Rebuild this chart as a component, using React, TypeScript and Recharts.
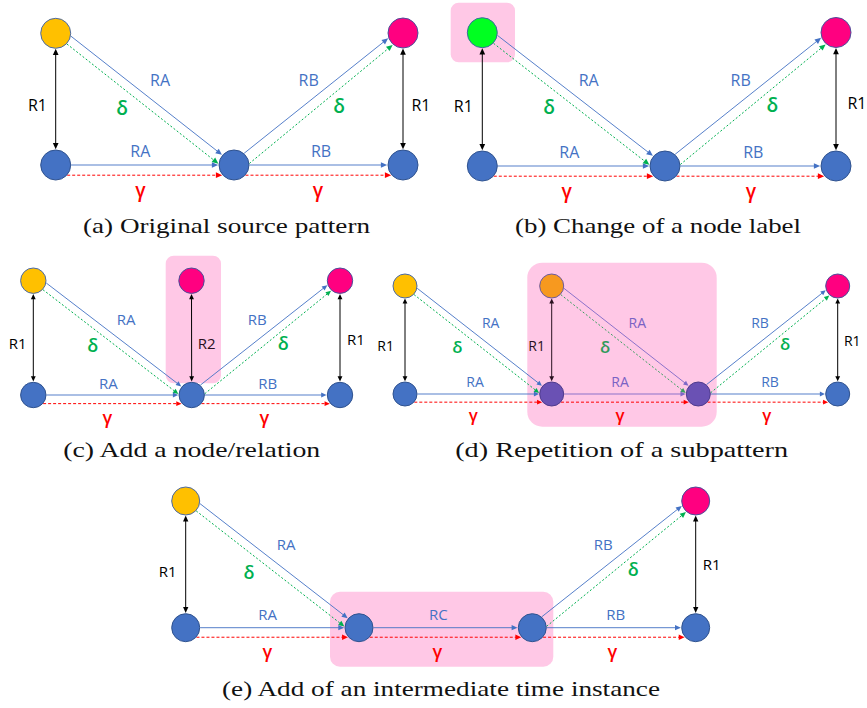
import React from 'react';
import { ScatterChart, Scatter, XAxis, YAxis, ReferenceLine, ReferenceArea } from 'recharts';

const W = 867;
const H = 708;

type NodeT = { id: string; x: number; y: number; kind: string };
type EdgeT = { from: string; to: string; kind: string; inside?: boolean };
type LabelT = { x: number; y: number; text: string; kind: string };
type AreaT = { x1: number; x2: number; y1: number; y2: number };

// ---------- (a) Original source pattern ----------
const nodesA: NodeT[] = [
  { id: 'y', x: 55.7, y: 33.3, kind: 'yellow' },
  { id: 'b1', x: 55.7, y: 165, kind: 'blue' },
  { id: 'b2', x: 234, y: 165, kind: 'blue' },
  { id: 'b3', x: 403, y: 165, kind: 'blue' },
  { id: 'p', x: 403, y: 33, kind: 'pink' },
];
const edgesA: EdgeT[] = [
  { from: 'y', to: 'b1', kind: 'r1' },
  { from: 'y', to: 'b2', kind: 'rel' },
  { from: 'y', to: 'b2', kind: 'delta' },
  { from: 'b1', to: 'b2', kind: 'rel' },
  { from: 'b1', to: 'b2', kind: 'gamma' },
  { from: 'b2', to: 'p', kind: 'rel' },
  { from: 'b2', to: 'p', kind: 'delta' },
  { from: 'b2', to: 'b3', kind: 'rel' },
  { from: 'b2', to: 'b3', kind: 'gamma' },
  { from: 'p', to: 'b3', kind: 'r1' },
];
const labelsA: LabelT[] = [
  { x: 37.5, y: 105.7, text: 'R1', kind: 'r' },
  { x: 160, y: 80, text: 'RA', kind: 'rel' },
  { x: 122, y: 107.5, text: 'δ', kind: 'delta' },
  { x: 140.3, y: 151, text: 'RA', kind: 'rel' },
  { x: 140.5, y: 194.5, text: 'γ', kind: 'gamma' },
  { x: 308.7, y: 80, text: 'RB', kind: 'rel' },
  { x: 339, y: 106, text: 'δ', kind: 'delta' },
  { x: 321, y: 151, text: 'RB', kind: 'rel' },
  { x: 318, y: 194.5, text: 'γ', kind: 'gamma' },
  { x: 421, y: 105.7, text: 'R1', kind: 'r' },
];
const areasA: AreaT[] = [];

// ---------- (b) Change of a node label ----------
const nodesB: NodeT[] = [
  { id: 'g', x: 482.3, y: 32.7, kind: 'green' },
  { id: 'b1', x: 482.3, y: 166, kind: 'blue' },
  { id: 'b2', x: 665, y: 166, kind: 'blue' },
  { id: 'b3', x: 836, y: 166, kind: 'blue' },
  { id: 'p', x: 836, y: 32.5, kind: 'pink' },
];
const edgesB: EdgeT[] = [
  { from: 'g', to: 'b1', kind: 'r1' },
  { from: 'g', to: 'b2', kind: 'rel' },
  { from: 'g', to: 'b2', kind: 'delta' },
  { from: 'b1', to: 'b2', kind: 'rel' },
  { from: 'b1', to: 'b2', kind: 'gamma' },
  { from: 'b2', to: 'p', kind: 'rel' },
  { from: 'b2', to: 'p', kind: 'delta' },
  { from: 'b2', to: 'b3', kind: 'rel' },
  { from: 'b2', to: 'b3', kind: 'gamma' },
  { from: 'p', to: 'b3', kind: 'r1' },
];
const labelsB: LabelT[] = [
  { x: 463.3, y: 106.7, text: 'R1', kind: 'r' },
  { x: 588.7, y: 80, text: 'RA', kind: 'rel' },
  { x: 549, y: 107, text: 'δ', kind: 'delta' },
  { x: 569.3, y: 152.3, text: 'RA', kind: 'rel' },
  { x: 566.7, y: 195, text: 'γ', kind: 'gamma' },
  { x: 740.7, y: 80, text: 'RB', kind: 'rel' },
  { x: 772.3, y: 105, text: 'δ', kind: 'delta' },
  { x: 753.3, y: 152.3, text: 'RB', kind: 'rel' },
  { x: 751, y: 195, text: 'γ', kind: 'gamma' },
  { x: 857, y: 103.3, text: 'R1', kind: 'r' },
];
const areasB: AreaT[] = [{ x1: 450.7, x2: 515, y1: 2.7, y2: 62.3 }];

// ---------- (c) Add a node/relation ----------
const nodesC: NodeT[] = [
  { id: 'y', x: 33.3, y: 280.7, kind: 'yellow' },
  { id: 'b1', x: 33.3, y: 395, kind: 'blue' },
  { id: 'b2', x: 191.7, y: 395, kind: 'blue' },
  { id: 'pm', x: 191.5, y: 280.7, kind: 'pink' },
  { id: 'b3', x: 340, y: 395, kind: 'blue' },
  { id: 'p', x: 340, y: 280.7, kind: 'pink' },
];
const edgesC: EdgeT[] = [
  { from: 'y', to: 'b1', kind: 'r1' },
  { from: 'y', to: 'b2', kind: 'rel' },
  { from: 'y', to: 'b2', kind: 'delta' },
  { from: 'b1', to: 'b2', kind: 'rel' },
  { from: 'b1', to: 'b2', kind: 'gamma' },
  { from: 'pm', to: 'b2', kind: 'r1' },
  { from: 'b2', to: 'p', kind: 'rel' },
  { from: 'b2', to: 'p', kind: 'delta' },
  { from: 'b2', to: 'b3', kind: 'rel' },
  { from: 'b2', to: 'b3', kind: 'gamma' },
  { from: 'p', to: 'b3', kind: 'r1' },
];
const labelsC: LabelT[] = [
  { x: 17.7, y: 344, text: 'R1', kind: 'r' },
  { x: 126, y: 320, text: 'RA', kind: 'rel' },
  { x: 92.7, y: 345, text: 'δ', kind: 'delta' },
  { x: 206.7, y: 344, text: 'R2', kind: 'rIn' },
  { x: 257.3, y: 320, text: 'RB', kind: 'rel' },
  { x: 283.3, y: 342.7, text: 'δ', kind: 'delta' },
  { x: 356, y: 339.3, text: 'R1', kind: 'r' },
  { x: 108.3, y: 383.3, text: 'RA', kind: 'rel' },
  { x: 267.7, y: 383.3, text: 'RB', kind: 'rel' },
  { x: 107.3, y: 421.7, text: 'γ', kind: 'gamma' },
  { x: 264.3, y: 421.7, text: 'γ', kind: 'gamma' },
];
const areasC: AreaT[] = [{ x1: 165.7, x2: 221, y1: 255.7, y2: 383.3 }];

// ---------- (d) Repetition of a subpattern ----------
const nodesD: NodeT[] = [
  { id: 'y', x: 405, y: 286, kind: 'yellow' },
  { id: 'b1', x: 405, y: 394, kind: 'blue' },
  { id: 'o', x: 551.7, y: 286, kind: 'orange' },
  { id: 'm1', x: 551.7, y: 394, kind: 'purple' },
  { id: 'm2', x: 698.3, y: 394, kind: 'purple' },
  { id: 'p', x: 837.7, y: 286, kind: 'pink' },
  { id: 'b3', x: 837.7, y: 394, kind: 'blue' },
];
const edgesD: EdgeT[] = [
  { from: 'y', to: 'b1', kind: 'r1' },
  { from: 'y', to: 'm1', kind: 'rel' },
  { from: 'y', to: 'm1', kind: 'delta' },
  { from: 'b1', to: 'm1', kind: 'rel' },
  { from: 'b1', to: 'm1', kind: 'gamma' },
  { from: 'o', to: 'm1', kind: 'r1', inside: true },
  { from: 'o', to: 'm2', kind: 'rel', inside: true },
  { from: 'o', to: 'm2', kind: 'delta', inside: true },
  { from: 'm1', to: 'm2', kind: 'rel', inside: true },
  { from: 'm1', to: 'm2', kind: 'gamma' },
  { from: 'm2', to: 'p', kind: 'rel' },
  { from: 'm2', to: 'p', kind: 'delta' },
  { from: 'm2', to: 'b3', kind: 'rel' },
  { from: 'm2', to: 'b3', kind: 'gamma' },
  { from: 'p', to: 'b3', kind: 'r1' },
];
const labelsD: LabelT[] = [
  { x: 385.7, y: 346, text: 'R1', kind: 'r' },
  { x: 490.7, y: 323.3, text: 'RA', kind: 'rel' },
  { x: 457.3, y: 346.7, text: 'δ', kind: 'delta' },
  { x: 475, y: 381.7, text: 'RA', kind: 'rel' },
  { x: 473.3, y: 418.3, text: 'γ', kind: 'gamma' },
  { x: 536.7, y: 346, text: 'R1', kind: 'rIn' },
  { x: 637.3, y: 323.3, text: 'RA', kind: 'relIn' },
  { x: 605, y: 346.7, text: 'δ', kind: 'deltaIn' },
  { x: 620, y: 381.7, text: 'RA', kind: 'relIn' },
  { x: 620, y: 418.3, text: 'γ', kind: 'gamma' },
  { x: 760, y: 323.3, text: 'RB', kind: 'rel' },
  { x: 785, y: 344, text: 'δ', kind: 'delta' },
  { x: 770, y: 381.7, text: 'RB', kind: 'rel' },
  { x: 766.7, y: 418.3, text: 'γ', kind: 'gamma' },
  { x: 852.3, y: 340.7, text: 'R1', kind: 'r' },
];
const areasD: AreaT[] = [{ x1: 527.3, x2: 716.7, y1: 262.7, y2: 426.7 }];

// ---------- (e) Add of an intermediate time instance ----------
const nodesE: NodeT[] = [
  { id: 'y', x: 185.7, y: 501, kind: 'yellow' },
  { id: 'b1', x: 185.7, y: 627.7, kind: 'blue' },
  { id: 'm1', x: 359, y: 627.7, kind: 'blue' },
  { id: 'm2', x: 532.3, y: 627.7, kind: 'blue' },
  { id: 'p', x: 695.7, y: 501, kind: 'pink' },
  { id: 'b3', x: 695.7, y: 627.7, kind: 'blue' },
];
const edgesE: EdgeT[] = [
  { from: 'y', to: 'b1', kind: 'r1' },
  { from: 'y', to: 'm1', kind: 'rel' },
  { from: 'y', to: 'm1', kind: 'delta' },
  { from: 'b1', to: 'm1', kind: 'rel' },
  { from: 'b1', to: 'm1', kind: 'gamma' },
  { from: 'm1', to: 'm2', kind: 'rel' },
  { from: 'm1', to: 'm2', kind: 'gamma' },
  { from: 'm2', to: 'p', kind: 'rel' },
  { from: 'm2', to: 'p', kind: 'delta' },
  { from: 'm2', to: 'b3', kind: 'rel' },
  { from: 'm2', to: 'b3', kind: 'gamma' },
  { from: 'p', to: 'b3', kind: 'r1' },
];
const labelsE: LabelT[] = [
  { x: 167.7, y: 571.7, text: 'R1', kind: 'r' },
  { x: 286, y: 545, text: 'RA', kind: 'rel' },
  { x: 249, y: 572.3, text: 'δ', kind: 'delta' },
  { x: 267.7, y: 614.3, text: 'RA', kind: 'rel' },
  { x: 267.3, y: 655, text: 'γ', kind: 'gamma' },
  { x: 438.3, y: 614.3, text: 'RC', kind: 'rel' },
  { x: 437.3, y: 655, text: 'γ', kind: 'gamma' },
  { x: 603.3, y: 545, text: 'RB', kind: 'rel' },
  { x: 633.3, y: 569.3, text: 'δ', kind: 'delta' },
  { x: 615.7, y: 614.3, text: 'RB', kind: 'rel' },
  { x: 612.3, y: 655, text: 'γ', kind: 'gamma' },
  { x: 711.7, y: 565, text: 'R1', kind: 'r' },
];
const areasE: AreaT[] = [{ x1: 330, x2: 553.3, y1: 591.7, y2: 666.7 }];

// ---------- captions ----------
const captions = [
  { x: 226.5, y: 233, text: '(a) Original source pattern' },
  { x: 658, y: 233, text: '(b) Change of a node label' },
  { x: 191.7, y: 456.5, text: '(c) Add a node/relation' },
  { x: 621.7, y: 457, text: '(d) Repetition of a subpattern' },
  { x: 441, y: 696, text: '(e) Add of an intermediate time instance' },
];

// ---------- styles (kept apart from data) ----------
const captionWidths = [287, 286, 257, 333, 438];
const panelStyle = [
  { r: 15, fs: 16, areaR: 8 },
  { r: 15, fs: 16, areaR: 8 },
  { r: 12.7, fs: 15, areaR: 8 },
  { r: 12, fs: 14, areaR: 15 },
  { r: 14, fs: 15, areaR: 10 },
];
const NODE_FILL: Record<string, string> = {
  blue: '#4472c4',
  yellow: '#ffc000',
  pink: '#ff0080',
  green: '#00ff21',
  orange: '#f7991f',
  purple: '#6a51b4',
};
const NODE_STROKE: Record<string, string> = {
  blue: '#2f528f',
  yellow: '#4a6aa8',
  pink: '#4a4f9a',
  green: '#3a6aa0',
  orange: '#6a5aa0',
  purple: '#4d3a8c',
};
const LABEL_COLOR: Record<string, string> = {
  rel: '#4472c4',
  relIn: '#7a62c4',
  delta: '#00b050',
  deltaIn: '#2f9a5a',
  gamma: '#ff0000',
  r: '#000000',
  rIn: '#2a1020',
};
const EDGE_COLOR: Record<string, string> = {
  rel: '#4472c4',
  delta: '#00b050',
  gamma: '#ff0000',
  r1: '#000000',
};
const EDGE_COLOR_IN: Record<string, string> = {
  rel: '#7e68c6',
  delta: '#3aa060',
  gamma: '#ff0000',
  r1: '#2a1020',
};

const panels = [
  { nodes: nodesA, edges: edgesA, labels: labelsA, areas: areasA },
  { nodes: nodesB, edges: edgesB, labels: labelsB, areas: areasB },
  { nodes: nodesC, edges: edgesC, labels: labelsC, areas: areasC },
  { nodes: nodesD, edges: edgesD, labels: labelsD, areas: areasD },
  { nodes: nodesE, edges: edgesE, labels: labelsE, areas: areasE },
];

function arrow(tx: number, ty: number, ux: number, uy: number, len: number, half: number, fill: string, key: string) {
  const bx = tx - ux * len;
  const by = ty - uy * len;
  const px = -uy;
  const py = ux;
  return (
    <polygon
      key={key}
      points={`${tx},${ty} ${bx + px * half},${by + py * half} ${bx - px * half},${by - py * half}`}
      fill={fill}
    />
  );
}

function makeEdgeShape(kind: string, r: number, inside: boolean) {
  return (p: any) => {
    const { x1, y1, x2, y2 } = p;
    if ([x1, y1, x2, y2].some((v) => typeof v !== 'number' || isNaN(v))) return <g />;
    const dx = x2 - x1;
    const dy = y2 - y1;
    const L = Math.hypot(dx, dy) || 1;
    const ux = dx / L;
    const uy = dy / L;
    const nx = uy;
    const ny = -ux;
    const horiz = Math.abs(dy) < 1;
    const vert = Math.abs(dx) < 1;
    let o0 = 0;
    let o1 = 0;
    if (kind === 'rel' && !horiz && !vert) {
      if (dy > 0) { o0 = 0.45 * r; o1 = 0.07 * r; } else { o0 = 0.2 * r; o1 = 0.33 * r; }
    }
    if (kind === 'delta') {
      if (dy > 0) { o0 = -0.13 * r; o1 = -0.55 * r; } else { o0 = -0.55 * r; o1 = -0.2 * r; }
    }
    if (kind === 'gamma') { o0 = -0.68 * r; o1 = -0.68 * r; }
    const a0 = Math.sqrt(Math.max(r * r - o0 * o0, 0)) + 0.5;
    const a1 = Math.sqrt(Math.max(r * r - o1 * o1, 0)) + 0.8;
    const sx = x1 + ux * a0 + nx * o0;
    const sy = y1 + uy * a0 + ny * o0;
    const ex = x2 - ux * a1 + nx * o1;
    const ey = y2 - uy * a1 + ny * o1;
    const sdx = ex - sx;
    const sdy = ey - sy;
    const sl = Math.hypot(sdx, sdy) || 1;
    const vx = sdx / sl;
    const vy = sdy / sl;
    const color = (inside ? EDGE_COLOR_IN : EDGE_COLOR)[kind];
    const len = Math.max(5, 0.42 * r);
    const half = Math.max(2.4, 0.19 * r);
    const dash = kind === 'delta' ? '2 2' : kind === 'gamma' ? '3 2' : undefined;
    const lsx = kind === 'r1' ? sx + vx * len * 0.8 : sx;
    const lsy = kind === 'r1' ? sy + vy * len * 0.8 : sy;
    const lex = ex - vx * len * 0.8;
    const ley = ey - vy * len * 0.8;
    return (
      <g>
        <line
          x1={lsx}
          y1={lsy}
          x2={lex}
          y2={ley}
          stroke={color}
          strokeWidth={1}
          strokeOpacity={kind === 'rel' ? 0.9 : 1}
          strokeDasharray={dash}
          fill="none"
        />
        {arrow(ex, ey, vx, vy, len, half, color, 'e')}
        {kind === 'r1' ? arrow(sx, sy, -vx, -vy, len, half, color, 's') : null}
      </g>
    );
  };
}

function makeNodeShape(r: number) {
  return (p: any) => {
    const { cx, cy, payload } = p;
    if (typeof cx !== 'number' || typeof cy !== 'number') return <g />;
    return (
      <circle
        cx={cx}
        cy={cy}
        r={r}
        fill={NODE_FILL[payload.kind]}
        stroke={NODE_STROKE[payload.kind]}
        strokeWidth={1}
      />
    );
  };
}

function isGreek(text: string) {
  return text === 'γ' || text === 'δ';
}

function baselineShift(text: string) {
  if (text === 'γ') return 0.15;
  if (text === 'δ') return 0.38;
  return 0.36;
}

function makeLabelShape(fs: number) {
  return (p: any) => {
    const { cx, cy, payload } = p;
    if (typeof cx !== 'number' || typeof cy !== 'number') return <g />;
    const size = isGreek(payload.text) ? fs * 1.2 : fs;
    return (
      <text
        x={cx}
        y={cy + baselineShift(payload.text) * size}
        textAnchor="middle"
        fontSize={size}
        fontWeight={isGreek(payload.text) ? 600 : 500}
        fontFamily="'Open Sans', 'DejaVu Sans', sans-serif"
        fill={LABEL_COLOR[payload.kind]}
      >
        {payload.text}
      </text>
    );
  };
}

const captionShape = (p: any) => {
  const { cx, cy, payload, index } = p;
  if (typeof cx !== 'number' || typeof cy !== 'number') return <g />;
  const i = captions.findIndex((c) => c.text === payload.text);
  return (
    <text
      x={cx}
      y={cy}
      textAnchor="middle"
      fontSize={21}
      fontFamily="'Liberation Serif', 'DejaVu Serif', serif"
      fill="#111"
      textLength={captionWidths[i >= 0 ? i : index]}
      lengthAdjust="spacingAndGlyphs"
    >
      {payload.text}
    </text>
  );
};

export default function App() {
  return (
    <div style={{ position: 'absolute', left: 0, top: 0, width: W, height: H, background: '#ffffff' }}>
      <ScatterChart width={W} height={H} margin={{ top: 0, right: 0, bottom: 0, left: 0 }}>
        <XAxis type="number" dataKey="x" domain={[0, W]} allowDataOverflow hide />
        <YAxis type="number" dataKey="y" domain={[0, H]} allowDataOverflow reversed hide />
        {panels.map((pn, pi) =>
          pn.areas.map((a, ai) => (
            <ReferenceArea
              key={`area-${pi}-${ai}`}
              x1={a.x1}
              x2={a.x2}
              y1={a.y1}
              y2={a.y2}
              ifOverflow="visible"
              shape={(p: any) => (
                <rect
                  x={p.x}
                  y={p.y}
                  width={p.width}
                  height={p.height}
                  rx={panelStyle[pi].areaR}
                  ry={panelStyle[pi].areaR}
                  fill="#ffc8e6"
                />
              )}
            />
          ))
        )}
        {panels.map((pn, pi) =>
          pn.edges.map((e, ei) => {
            const a = pn.nodes.find((n) => n.id === e.from)!;
            const b = pn.nodes.find((n) => n.id === e.to)!;
            return (
              <ReferenceLine
                key={`edge-${pi}-${ei}`}
                segment={[{ x: a.x, y: a.y }, { x: b.x, y: b.y }]}
                ifOverflow="visible"
                shape={makeEdgeShape(e.kind, panelStyle[pi].r, !!e.inside)}
              />
            );
          })
        )}
        {panels.map((pn, pi) => (
          <Scatter
            key={`nodes-${pi}`}
            data={pn.nodes}
            isAnimationActive={false}
            shape={makeNodeShape(panelStyle[pi].r)}
          />
        ))}
        {panels.map((pn, pi) => (
          <Scatter
            key={`labels-${pi}`}
            data={pn.labels}
            isAnimationActive={false}
            shape={makeLabelShape(panelStyle[pi].fs)}
          />
        ))}
        <Scatter data={captions} isAnimationActive={false} shape={captionShape} />
      </ScatterChart>
    </div>
  );
}
